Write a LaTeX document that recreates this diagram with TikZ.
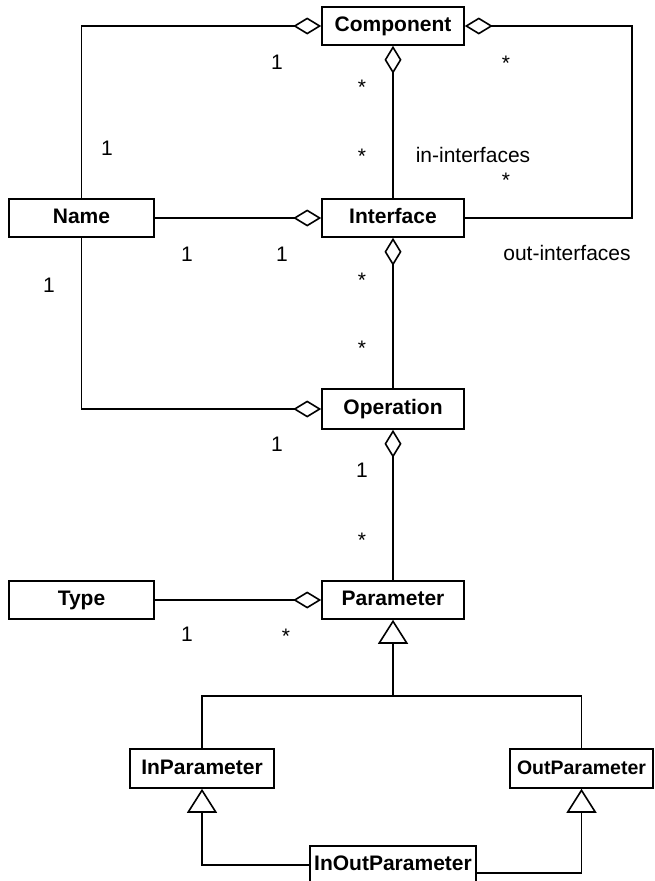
\documentclass[tikz,border=0pt]{standalone}
\usepackage{fontspec}
\setmainfont{Liberation Sans}
\usetikzlibrary{arrows.meta,calc}
\begin{document}
\begin{tikzpicture}[x=1pt,y=-1pt,
  cls/.style={draw, line width=1.6pt, fill=white, minimum height=38pt, inner sep=0pt,
    text height=15pt, text depth=4pt, font=\fontsize{21}{25}\selectfont\bfseries},
  lbl/.style={anchor=base, inner sep=0pt, font=\fontsize{21}{25}\selectfont},
  conn/.style={line width=1.6pt},
  agg/.style={conn, {Diamond[open, length=28pt, width=17pt]}-},
  gen/.style={conn, {Triangle[open, length=24pt, width=30pt]}-}
]
\useasboundingbox[fill=white] (0,0) rectangle (654,881);

% classes
\node[cls, minimum width=142pt] (comp) at (393,26) {Component};
\node[cls, minimum width=145pt] (name) at (81.5,218) {Name};
\node[cls, minimum width=142pt] (iface) at (393,218) {Interface};
\node[cls, minimum width=142pt, minimum height=40pt] (oper) at (393,409) {Operation};
\node[cls, minimum width=145pt] (type) at (81.5,600) {Type};
\node[cls, minimum width=142pt] (param) at (393,600) {Parameter};
\node[cls, minimum width=144pt, minimum height=39pt] (inp) at (202,768.5) {InParameter};
\node[cls, minimum width=143pt, minimum height=39pt, font=\fontsize{19.5}{24}\selectfont\bfseries] (outp) at (581.5,768.5) {OutParameter};
\node[cls, minimum width=166pt] (inout) at (393,865) {InOutParameter};

% helper coordinates
\coordinate (rc) at (632,26);
\coordinate (bar) at (393,696);
\coordinate (ioR) at ($(inout.east)+(0,8)$);

% aggregations
\draw[agg] (comp.west) -- (comp.west -| name.north) -- (name.north);
\draw[agg] (comp.east) -- (rc) -- (rc |- iface.east) -- (iface.east);
\draw[agg] (comp.south) -- (iface.north);
\draw[agg] (iface.west) -- (name.east);
\draw[agg] (iface.south) -- (oper.north);
\draw[agg] (oper.west) -- (oper.west -| name.south) -- (name.south);
\draw[agg] (oper.south) -- (param.north);
\draw[agg] (param.west) -- (type.east);

% generalisations
\draw[gen] (param.south) -- (bar);
\draw[conn] (inp.north) |- (bar) -| (outp.north);
\draw[gen] (inp.south) |- (inout.west);
\draw[gen] (outp.south) |- (ioR);

% multiplicities and role names
\node[lbl] (m1) at (277,69.5) {1};
\node[lbl] (m2) at (362,94) {*};
\node[lbl] (m3) at (506,70) {*};
\node[lbl] (m4) at (107,155.5) {1};
\node[lbl] (m5) at (362,163) {*};
\node[lbl] (r1) at (473,162) {in-interfaces};
\node[lbl] (m6) at (506,187) {*};
\node[lbl] (m7) at (187,261.5) {1};
\node[lbl] (m8) at (282,261.5) {1};
\node[lbl] (r2) at (567,260) {out-interfaces};
\node[lbl] (m9) at (362,287) {*};
\node[lbl] (m10) at (49,292.5) {1};
\node[lbl] (m11) at (362,355) {*};
\node[lbl] (m12) at (277,451.5) {1};
\node[lbl] (m13) at (362,477.5) {1};
\node[lbl] (m14) at (362,547) {*};
\node[lbl] (m15) at (187,641.5) {1};
\node[lbl] (m16) at (286,643) {*};
\end{tikzpicture}
\end{document}
